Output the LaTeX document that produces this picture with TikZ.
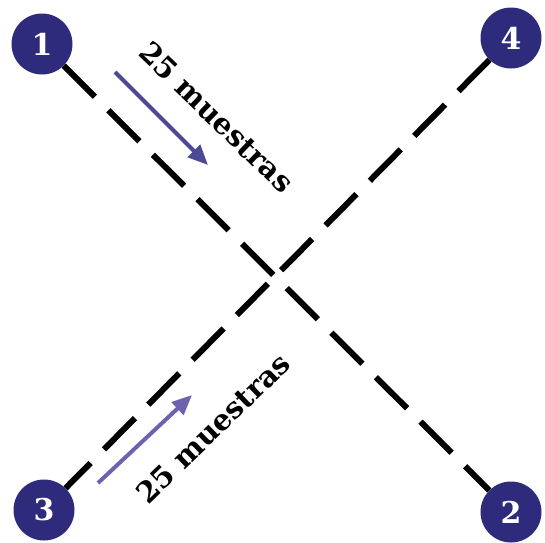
\documentclass[tikz,border=0pt]{standalone}
\usepackage{fontspec}
\setmainfont{DejaVu Serif}
\usetikzlibrary{arrows.meta}
\definecolor{disc}{HTML}{2E2A7C}
\definecolor{arrA}{HTML}{4C4A94}
\definecolor{arrB}{HTML}{6C62B0}
\tikzset{
  station/.style={circle, fill=disc, minimum size=61pt, inner sep=0pt,
    text=white, font=\fontsize{30}{30}\selectfont\bfseries},
  track/.style={line width=6pt, black, dash pattern=on 44pt off 19pt},
  flow/.style={line width=4pt, -{Triangle[length=20pt,width=17pt]}},
  tag/.style={font=\fontsize{29}{30}\selectfont\bfseries, inner sep=0pt}
}
\begin{document}
\begin{tikzpicture}[x=1pt,y=-1pt]
\useasboundingbox (0,0) rectangle (545,542);
% stations
\node[station] (s1) at (42,44) {1};
\node[station] (s4) at (511,38) {4};
\node[station] (s3) at (44,510) {3};
\node[station] (s2) at (511,512) {2};
% crossing tracks
\draw[track] (s1) -- (s2);
\draw[track] (s4) -- (s3);
% sample directions
\coordinate (a1) at (115,72);
\coordinate (b1) at (208,165);
\draw[flow, arrA] (a1) -- (b1);
\coordinate (a2) at (98,483);
\coordinate (b2) at (192,395);
\draw[flow, arrB] (a2) -- (b2);
% labels
\node[tag, rotate=-44] (t1) at (217,117) {25 muestras};
\node[tag, rotate=44] (t2) at (213,428) {25 muestras};
\end{tikzpicture}
\end{document}
